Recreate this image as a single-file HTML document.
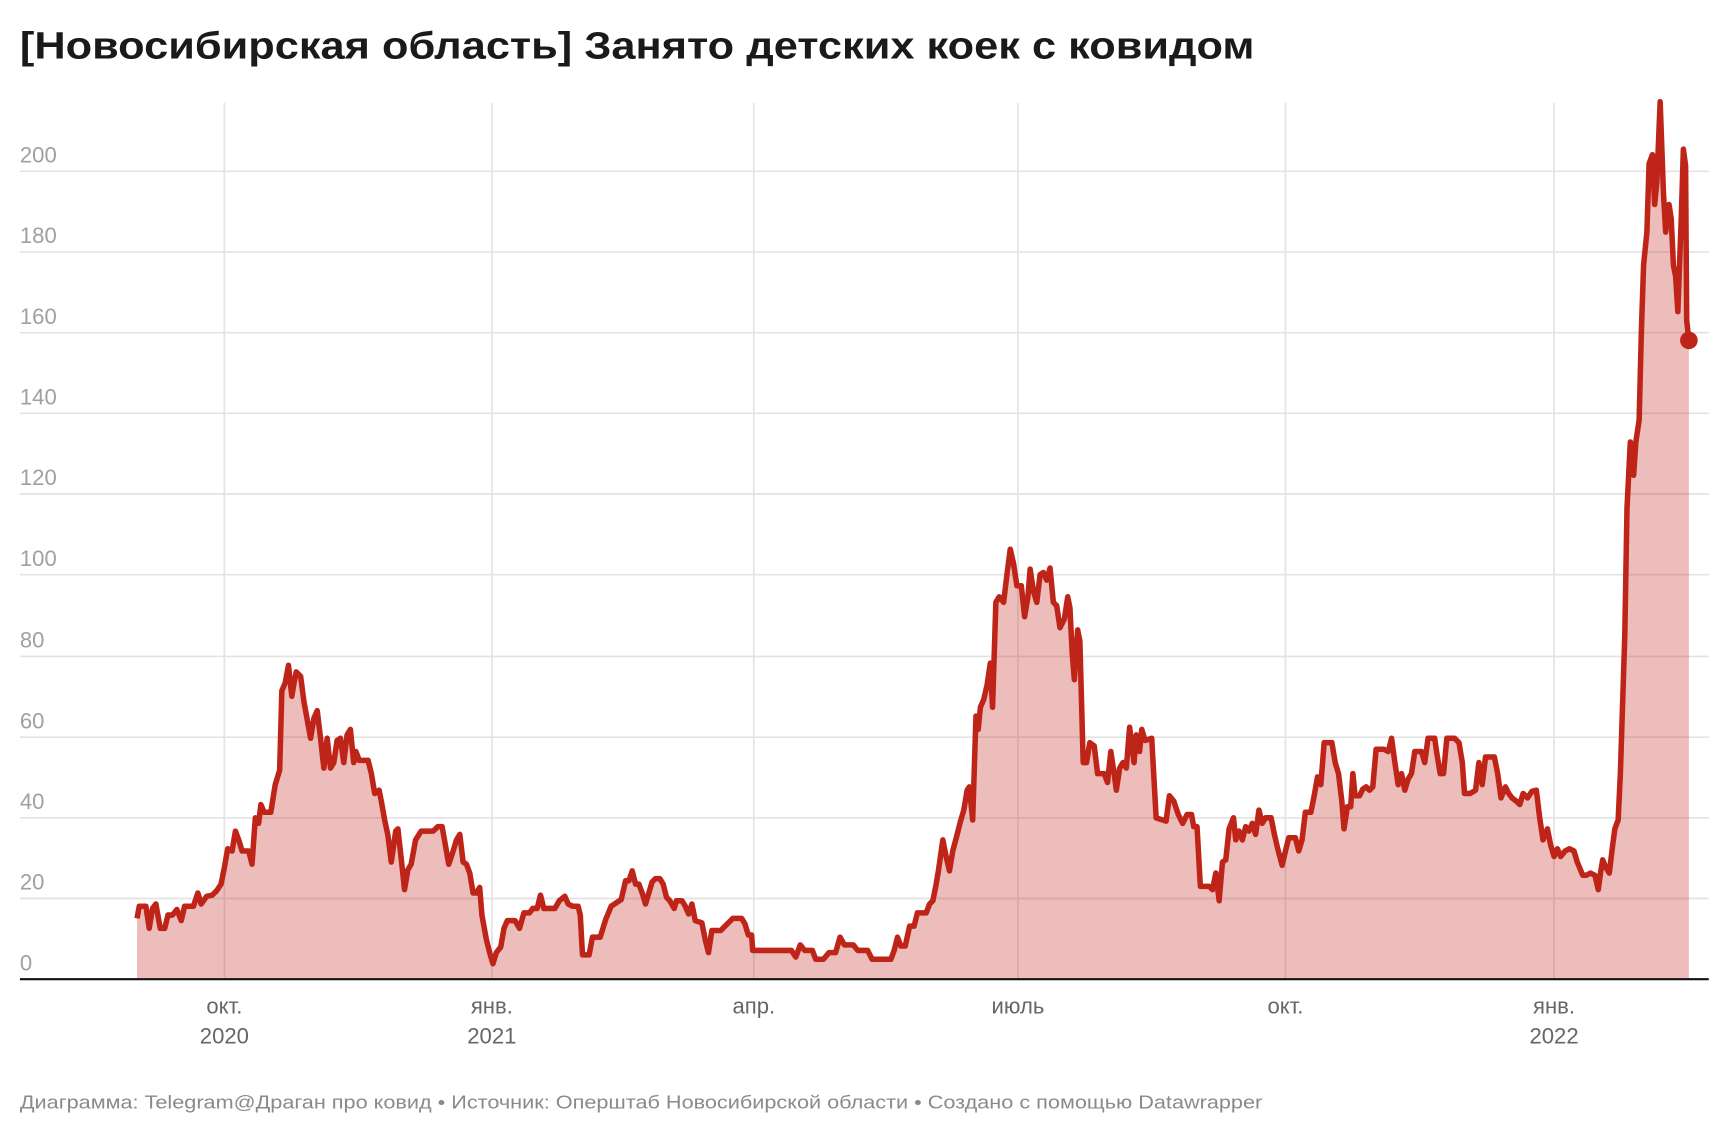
<!DOCTYPE html>
<html><head><meta charset="utf-8"><style>
html,body{margin:0;padding:0;background:#fff;}
svg{display:block;}
text{font-family:"Liberation Sans",sans-serif;}
</style></head><body>
<svg width="1732" height="1135" viewBox="0 0 1567 1027" preserveAspectRatio="none" xmlns="http://www.w3.org/2000/svg">
<text x="18" y="53" font-size="34" font-weight="bold" fill="#1a1a1a" textLength="1117" lengthAdjust="spacingAndGlyphs">[Новосибирская область] Занято детских коек с ковидом</text>
<g stroke="#e3e3e3" stroke-width="1.5">
<line x1="18" x2="1546" y1="155" y2="155"/><line x1="18" x2="1546" y1="228" y2="228"/>
<line x1="18" x2="1546" y1="301" y2="301"/><line x1="18" x2="1546" y1="374" y2="374"/>
<line x1="18" x2="1546" y1="447" y2="447"/><line x1="18" x2="1546" y1="520" y2="520"/>
<line x1="18" x2="1546" y1="594" y2="594"/><line x1="18" x2="1546" y1="667" y2="667"/>
<line x1="18" x2="1546" y1="740" y2="740"/><line x1="18" x2="1546" y1="813" y2="813"/>
<line x1="203" x2="203" y1="93" y2="886"/><line x1="445" x2="445" y1="93" y2="886"/>
<line x1="682" x2="682" y1="93" y2="886"/><line x1="921" x2="921" y1="93" y2="886"/>
<line x1="1163" x2="1163" y1="93" y2="886"/><line x1="1406" x2="1406" y1="93" y2="886"/>
</g>
<g font-size="20" fill="#a0a0a0">
<text x="18" y="147">200</text><text x="18" y="220">180</text><text x="18" y="293">160</text>
<text x="18" y="366">140</text><text x="18" y="439">120</text><text x="18" y="512">100</text>
<text x="18" y="586">80</text><text x="18" y="659">60</text><text x="18" y="732">40</text>
<text x="18" y="805">20</text><text x="18" y="878">0</text>
</g>
<g font-size="20" fill="#666" text-anchor="middle">
<text x="203" y="917">окт.</text><text x="203" y="944">2020</text>
<text x="445" y="917">янв.</text><text x="445" y="944">2021</text>
<text x="682" y="917">апр.</text><text x="921" y="917">июль</text>
<text x="1163" y="917">окт.</text>
<text x="1406" y="917">янв.</text><text x="1406" y="944">2022</text>
</g>
<text x="18" y="1003" font-size="17" fill="#8a8a8a" textLength="1124" lengthAdjust="spacingAndGlyphs">Диаграмма: Telegram@Драган про ковид • Источник: Оперштаб Новосибирской области • Создано с помощью Datawrapper</text>
<defs><path id="d" d="M124,831 L126,820 L132,820 L135,840 L138,822 L141,818 L145,840 L149,840 L152,828 L156,828 L160,823 L164,833 L167,820 L175,820 L179,808 L182,818 L187,811 L192,810 L196,806 L200,800 L203,785 L206,768 L210,770 L213,752 L216,760 L219,770 L225,770 L228,782 L231,740 L234,745 L236,728 L239,735 L245,735 L249,710 L253,697 L255,625 L258,618 L261,602 L264,630 L266,618 L268,608 L272,612 L275,635 L281,668 L284,650 L287,643 L290,668 L293,695 L296,668 L299,695 L302,690 L305,670 L308,668 L311,690 L314,665 L317,660 L320,690 L322,680 L325,688 L333,688 L336,700 L339,718 L343,715 L345,725 L348,742 L351,756 L354,780 L358,752 L360,750 L363,777 L366,805 L369,787 L372,782 L376,760 L381,752 L392,752 L396,748 L400,748 L403,765 L406,782 L410,770 L413,760 L416,755 L419,780 L422,782 L425,790 L428,808 L431,808 L434,803 L436,828 L440,850 L443,862 L446,872 L449,862 L453,857 L456,840 L459,833 L466,833 L470,840 L474,826 L479,826 L482,822 L486,822 L489,810 L492,822 L502,822 L506,815 L511,811 L514,818 L518,820 L523,820 L525,828 L527,864 L533,864 L536,848 L543,848 L548,832 L553,820 L562,814 L566,797 L569,797 L572,788 L575,800 L578,800 L581,808 L584,818 L587,808 L590,798 L593,795 L597,795 L600,800 L603,812 L606,815 L610,822 L612,815 L617,815 L620,820 L623,827 L626,818 L629,833 L635,835 L638,850 L641,862 L644,842 L652,842 L656,838 L659,835 L663,831 L671,831 L674,836 L677,846 L680,846 L681,860 L716,860 L720,866 L724,855 L728,860 L735,860 L738,868 L745,868 L750,862 L756,862 L760,848 L764,855 L772,855 L776,860 L785,860 L789,868 L806,868 L809,860 L812,848 L815,856 L819,856 L823,838 L827,838 L830,826 L838,826 L841,818 L844,815 L847,800 L849,788 L853,760 L856,775 L859,788 L862,770 L866,755 L869,743 L872,733 L875,715 L877,712 L880,742 L883,648 L885,660 L887,640 L890,633 L893,620 L896,600 L898,640 L901,545 L904,540 L908,545 L911,520 L914,497 L917,510 L920,530 L924,530 L927,558 L930,540 L932,515 L935,535 L938,545 L941,520 L944,518 L947,525 L950,514 L953,545 L956,548 L959,568 L963,560 L966,540 L968,550 L970,590 L972,615 L975,570 L977,580 L980,690 L983,690 L986,672 L990,675 L993,700 L999,700 L1002,708 L1005,680 L1008,700 L1010,715 L1013,695 L1016,690 L1019,695 L1022,658 L1026,690 L1028,665 L1031,680 L1033,660 L1036,670 L1042,668 L1046,740 L1055,743 L1058,720 L1062,725 L1066,737 L1070,745 L1074,737 L1078,737 L1080,748 L1083,748 L1086,802 L1094,802 L1097,805 L1100,790 L1103,815 L1106,780 L1109,778 L1112,750 L1116,740 L1118,760 L1121,752 L1124,760 L1127,748 L1130,752 L1133,745 L1136,755 L1139,733 L1142,745 L1145,740 L1150,740 L1153,755 L1156,768 L1160,783 L1163,770 L1166,758 L1172,758 L1175,770 L1178,760 L1181,735 L1186,735 L1189,720 L1192,703 L1195,710 L1198,672 L1205,672 L1208,690 L1211,700 L1214,725 L1216,750 L1219,730 L1222,730 L1224,700 L1226,720 L1230,720 L1233,714 L1236,712 L1239,715 L1242,712 L1245,678 L1252,678 L1256,680 L1259,668 L1262,690 L1265,710 L1268,700 L1271,715 L1274,705 L1277,700 L1280,680 L1286,680 L1289,690 L1292,668 L1298,668 L1300,682 L1303,700 L1306,700 L1309,668 L1316,668 L1320,672 L1323,690 L1325,718 L1330,718 L1335,715 L1338,690 L1341,710 L1344,685 L1352,685 L1355,700 L1358,722 L1362,712 L1365,718 L1368,722 L1372,725 L1375,728 L1378,718 L1382,722 L1386,716 L1390,715 L1393,740 L1396,760 L1400,750 L1403,765 L1406,775 L1409,768 L1412,775 L1416,770 L1420,768 L1424,770 L1427,780 L1432,792 L1435,792 L1439,790 L1443,792 L1446,805 L1448,790 L1450,778 L1453,785 L1456,790 L1459,765 L1461,750 L1464,742 L1466,700 L1470,575 L1472,460 L1475,400 L1478,430 L1480,400 L1483,380 L1485,300 L1487,240 L1490,210 L1492,148 L1495,140 L1497,185 L1499,165 L1502,92 L1505,175 L1507,210 L1510,185 L1512,198 L1514,240 L1516,250 L1518,282 L1521,200 L1523,135 L1525,150 L1526,290 L1528,308"/></defs>
<path d="M124,886 L124,831 L126,820 L132,820 L135,840 L138,822 L141,818 L145,840 L149,840 L152,828 L156,828 L160,823 L164,833 L167,820 L175,820 L179,808 L182,818 L187,811 L192,810 L196,806 L200,800 L203,785 L206,768 L210,770 L213,752 L216,760 L219,770 L225,770 L228,782 L231,740 L234,745 L236,728 L239,735 L245,735 L249,710 L253,697 L255,625 L258,618 L261,602 L264,630 L266,618 L268,608 L272,612 L275,635 L281,668 L284,650 L287,643 L290,668 L293,695 L296,668 L299,695 L302,690 L305,670 L308,668 L311,690 L314,665 L317,660 L320,690 L322,680 L325,688 L333,688 L336,700 L339,718 L343,715 L345,725 L348,742 L351,756 L354,780 L358,752 L360,750 L363,777 L366,805 L369,787 L372,782 L376,760 L381,752 L392,752 L396,748 L400,748 L403,765 L406,782 L410,770 L413,760 L416,755 L419,780 L422,782 L425,790 L428,808 L431,808 L434,803 L436,828 L440,850 L443,862 L446,872 L449,862 L453,857 L456,840 L459,833 L466,833 L470,840 L474,826 L479,826 L482,822 L486,822 L489,810 L492,822 L502,822 L506,815 L511,811 L514,818 L518,820 L523,820 L525,828 L527,864 L533,864 L536,848 L543,848 L548,832 L553,820 L562,814 L566,797 L569,797 L572,788 L575,800 L578,800 L581,808 L584,818 L587,808 L590,798 L593,795 L597,795 L600,800 L603,812 L606,815 L610,822 L612,815 L617,815 L620,820 L623,827 L626,818 L629,833 L635,835 L638,850 L641,862 L644,842 L652,842 L656,838 L659,835 L663,831 L671,831 L674,836 L677,846 L680,846 L681,860 L716,860 L720,866 L724,855 L728,860 L735,860 L738,868 L745,868 L750,862 L756,862 L760,848 L764,855 L772,855 L776,860 L785,860 L789,868 L806,868 L809,860 L812,848 L815,856 L819,856 L823,838 L827,838 L830,826 L838,826 L841,818 L844,815 L847,800 L849,788 L853,760 L856,775 L859,788 L862,770 L866,755 L869,743 L872,733 L875,715 L877,712 L880,742 L883,648 L885,660 L887,640 L890,633 L893,620 L896,600 L898,640 L901,545 L904,540 L908,545 L911,520 L914,497 L917,510 L920,530 L924,530 L927,558 L930,540 L932,515 L935,535 L938,545 L941,520 L944,518 L947,525 L950,514 L953,545 L956,548 L959,568 L963,560 L966,540 L968,550 L970,590 L972,615 L975,570 L977,580 L980,690 L983,690 L986,672 L990,675 L993,700 L999,700 L1002,708 L1005,680 L1008,700 L1010,715 L1013,695 L1016,690 L1019,695 L1022,658 L1026,690 L1028,665 L1031,680 L1033,660 L1036,670 L1042,668 L1046,740 L1055,743 L1058,720 L1062,725 L1066,737 L1070,745 L1074,737 L1078,737 L1080,748 L1083,748 L1086,802 L1094,802 L1097,805 L1100,790 L1103,815 L1106,780 L1109,778 L1112,750 L1116,740 L1118,760 L1121,752 L1124,760 L1127,748 L1130,752 L1133,745 L1136,755 L1139,733 L1142,745 L1145,740 L1150,740 L1153,755 L1156,768 L1160,783 L1163,770 L1166,758 L1172,758 L1175,770 L1178,760 L1181,735 L1186,735 L1189,720 L1192,703 L1195,710 L1198,672 L1205,672 L1208,690 L1211,700 L1214,725 L1216,750 L1219,730 L1222,730 L1224,700 L1226,720 L1230,720 L1233,714 L1236,712 L1239,715 L1242,712 L1245,678 L1252,678 L1256,680 L1259,668 L1262,690 L1265,710 L1268,700 L1271,715 L1274,705 L1277,700 L1280,680 L1286,680 L1289,690 L1292,668 L1298,668 L1300,682 L1303,700 L1306,700 L1309,668 L1316,668 L1320,672 L1323,690 L1325,718 L1330,718 L1335,715 L1338,690 L1341,710 L1344,685 L1352,685 L1355,700 L1358,722 L1362,712 L1365,718 L1368,722 L1372,725 L1375,728 L1378,718 L1382,722 L1386,716 L1390,715 L1393,740 L1396,760 L1400,750 L1403,765 L1406,775 L1409,768 L1412,775 L1416,770 L1420,768 L1424,770 L1427,780 L1432,792 L1435,792 L1439,790 L1443,792 L1446,805 L1448,790 L1450,778 L1453,785 L1456,790 L1459,765 L1461,750 L1464,742 L1466,700 L1470,575 L1472,460 L1475,400 L1478,430 L1480,400 L1483,380 L1485,300 L1487,240 L1490,210 L1492,148 L1495,140 L1497,185 L1499,165 L1502,92 L1505,175 L1507,210 L1510,185 L1512,198 L1514,240 L1516,250 L1518,282 L1521,200 L1523,135 L1525,150 L1526,290 L1528,308 L1528,886 Z" fill="#c0241a" fill-opacity="0.3"/>
<use href="#d" fill="none" stroke="#bf2418" stroke-width="5" stroke-linejoin="round"/>
<circle cx="1528" cy="308" r="8" fill="#bf2418"/>
<line x1="18" x2="1546" y1="886" y2="886" stroke="#111" stroke-width="2"/>
</svg>
</body></html>
